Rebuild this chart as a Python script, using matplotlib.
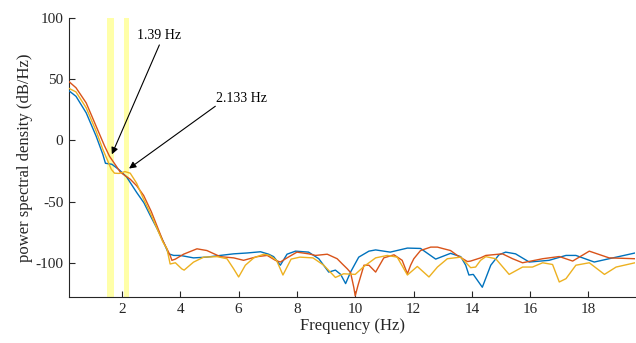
"""
Power spectral density of three channels with the two dominant
frequency bands shaded and called out.
"""
import numpy as np
import matplotlib
matplotlib.use("Agg")
import matplotlib.pyplot as plt

plt.rcParams["font.family"] = ["Liberation Serif", "DejaVu Serif"]
plt.rcParams["axes.unicode_minus"] = False

# ── spectra (Hz, dB/Hz) ────────────────────────────────────────────────────────
freq_a = [0.18, 0.42, 0.77, 1.11, 1.34, 1.43, 1.65, 1.9, 2.16, 2.5, 2.75, 2.97,
          3.2, 3.42, 3.6, 3.77, 4.0, 4.45, 4.91, 5.37, 5.83, 6.29, 6.75, 7.03,
          7.2, 7.43, 7.66, 7.95, 8.4, 8.75, 9.09, 9.32, 9.5, 9.67, 9.84, 10.12,
          10.47, 10.7, 11.2, 11.79, 12.24, 12.76, 13.27, 13.62, 13.79, 13.9,
          14.05, 14.36, 14.65, 14.93, 15.16, 15.5, 15.97, 16.65, 17.23, 17.57,
          18.2, 18.71, 19.6]
psd_a = [40.5, 36, 22.5, 3.5, -11.4, -18.7, -19.5, -24, -30, -42.5, -51, -61.5,
         -72, -83, -92.7, -94, -94, -96, -95.4, -94, -92.7, -92, -91, -93,
         -95, -102, -93, -90.5, -91.3, -96.7, -107.6, -106, -109.5, -117, -107.6, -95.4,
         -90.5, -89.5, -91.3, -88, -88.3, -97, -92.3, -95, -102, -110,
         -109.5, -120, -102, -93.5, -91.3, -92.7, -99.4, -98, -94, -94,
         -99.4, -96.7, -92]

freq_b = [0.18, 0.42, 0.77, 1.11, 1.4, 1.57, 1.8, 1.94, 2.28, 2.5, 2.74, 3.0,
          3.2, 3.4, 3.54, 3.65, 3.71, 3.83, 4.11, 4.57, 4.91, 5.37, 5.83, 6.17,
          6.63, 6.98, 7.26, 7.43, 7.66, 8.0, 8.4, 8.64, 9.04, 9.38, 9.55, 9.73,
          9.84, 9.95, 10.0, 10.1, 10.2, 10.3, 10.47, 10.7, 10.98, 11.33, 11.61,
          11.79, 11.9, 12.01, 12.24, 12.59, 12.82, 13.04, 13.27, 13.5, 13.85,
          13.96, 14.3, 14.48, 15.05, 15.4, 15.74, 16.43, 17.0, 17.46, 18.03,
          18.71, 19.6]
psd_b = [48, 43, 30.6, 11.6, -4.6, -13, -21, -26, -31.7, -37, -45, -58,
         -70, -82, -88.6, -94, -98, -97, -93, -88.6, -90, -95, -96, -98,
         -95, -94, -98, -99.4, -96, -91.3, -92.7, -94, -93, -96.7, -100.8, -105,
         -108, -120, -127, -118, -110, -102, -102, -107.6, -96, -93.5, -98,
         -109, -102, -96.7, -90, -87.2, -87.2, -88.6, -90, -94, -99,
         -98.6, -96, -94, -92.7, -96.7, -100, -96.7, -94.9, -98.6, -90.5,
         -96, -96.7]

freq_c = [0.18, 0.42, 0.77, 1.11, 1.34, 1.51, 1.63, 1.74, 1.9, 2.1, 2.28, 2.5,
          2.74, 3.0, 3.2, 3.4, 3.54, 3.65, 3.83, 4.05, 4.13, 4.45, 4.8, 5.26,
          5.6, 5.83, 6.0, 6.23, 6.52, 6.86, 7.06, 7.3, 7.52, 7.8, 8.1, 8.55,
          8.92, 9.32, 9.6, 10.0, 10.3, 10.7, 11.1, 11.44, 11.79, 12.13, 12.53,
          12.82, 13.16, 13.62, 13.96, 14.13, 14.3, 14.48, 14.82, 15.28, 15.74,
          16.08, 16.43, 16.77, 17.0, 17.23, 17.57, 18.03, 18.55, 18.95, 19.6]
psd_c = [42.5, 39.6, 26.6, 7.6, -7.3, -16.8, -23.6, -26.8, -27, -25.5, -26.8, -35,
         -48, -61, -72, -83, -88.6, -101, -100, -105, -106, -99.5, -95.4, -95,
         -96.7, -105, -111.6, -102, -96, -93, -94, -98, -110, -97, -95.4, -96,
         -102, -112, -109, -109.5, -103, -96, -94, -95.4, -110, -103, -111.6,
         -103.5, -96.7, -95.4, -104, -103.5, -98, -95, -96.7, -109.5, -103.5,
         -103.5, -100, -101.4, -115.7, -113, -102, -100, -109.5, -103.5, -100]

# shaded bands around the two peak frequencies
bands = [(1.49, 1.74), (2.05, 2.24)]
peak_labels = ["1.39 Hz", "2.133 Hz"]

COLORS = ["#0072BD", "#D95319", "#EDB120"]
AXIS_GRAY = "#262626"

fig = plt.figure(figsize=(6.36, 3.43), dpi=100)
ax = fig.add_axes([0.1085, 0.134, 0.89, 0.8135])

for lo, hi in bands:
    ax.axvspan(lo, hi, color="#FFFFA8", lw=0, zorder=1)

for f, p, c in [(freq_a, psd_a, COLORS[0]),
                (freq_b, psd_b, COLORS[1]),
                (freq_c, psd_c, COLORS[2])]:
    ax.plot(f, p, color=c, lw=1.0, zorder=3)

# call-outs for the two peaks
arrow_kw = dict(arrowstyle="-|>", color="k", lw=0.8, mutation_scale=10,
                shrinkA=0, shrinkB=0)
ax.annotate("", xy=(1.65, -11.4), xytext=(3.28, 78), arrowprops=arrow_kw, zorder=4)
ax.text(2.52, 85.5, peak_labels[0], fontsize=10, va="center", ha="left")
ax.annotate("", xy=(2.24, -23), xytext=(5.2, 27.9), arrowprops=arrow_kw, zorder=4)
ax.text(5.24, 34, peak_labels[1], fontsize=10, va="center", ha="left")

ax.set_xlim(0.18, 19.6)
ax.set_ylim(-128, 100)
ax.set_xticks(np.arange(2, 19, 2))
ax.set_yticks([-100, -50, 0, 50, 100])
ax.set_xlabel("Frequency (Hz)", fontsize=12, color=AXIS_GRAY, labelpad=2)
ax.set_ylabel("power spectral density (dB/Hz)", fontsize=12, color=AXIS_GRAY,
              labelpad=2)
ax.tick_params(direction="in", length=4, width=0.8, colors=AXIS_GRAY,
               labelsize=11, pad=4)
ax.spines[["top", "right"]].set_visible(False)
for s in ("left", "bottom"):
    ax.spines[s].set_color(AXIS_GRAY)
    ax.spines[s].set_linewidth(0.8)

fig.savefig("out.png", dpi=100)
